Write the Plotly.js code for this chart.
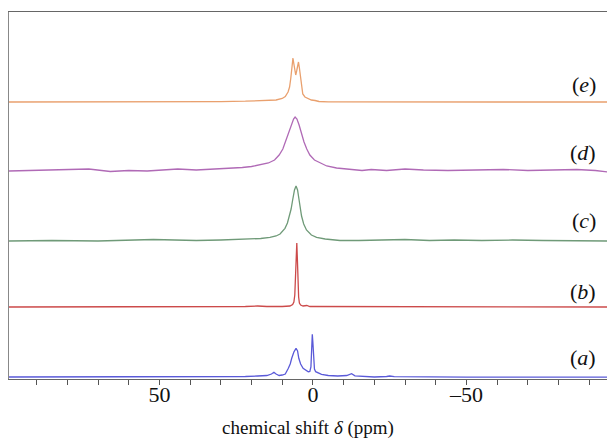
<!DOCTYPE html>
<html>
<head>
<meta charset="utf-8">
<script src="https://cdn.plot.ly/plotly-3.0.1.min.js"></script>
<style>html,body{margin:0;padding:0;background:#fff;}#chart{width:607px;height:442px;}</style>
</head>
<body>
<div id="chart"></div>
<script>
// Spectrum (a)
var ppmA = [99, 60, 40, 30, 26, 22, 18, 15, 13.5, 12.7, 12, 11, 10, 9, 8.0, 7.4, 6.9, 6.2, 5.5, 5.0, 4.6, 4.0, 3.2, 2.3, 1.5, 1.0, 0.65, 0.4, 0.2, 0.0, -0.2, -0.5, -0.9, -2, -2.8, -5, -8.1, -11, -12.6, -13.7, -17, -20, -24, -25, -26.5, -35, -50, -70, -96];
var intA = [2, 2, 2, 2, 2.3, 2.5, 3, 3.5, 5, 6.7, 5, 3.5, 4, 5, 10.7, 15, 20.7, 27, 30.7, 28, 20.7, 15, 10.7, 8.5, 7.3, 7.5, 12, 30, 44.7, 36, 17, 10, 7.3, 5.5, 4.7, 3.5, 3, 3.5, 5.3, 3.2, 2.5, 2, 2.5, 3, 2.3, 2, 1.8, 1.8, 1.8];
// Spectrum (b)
var ppmB = [99, 70, 50, 30, 22, 18, 15, 10, 7.5, 6.6, 6.2, 5.9, 5.65, 5.45, 5.25, 5.05, 4.85, 4.65, 4.4, 4.0, 3.2, 2, 1, -2, -10, -20, -40, -60, -80, -96];
var intB = [0, 0, 0.3, 0, 0.5, 1, 0.5, 0.5, 1, 2.5, 5, 12, 28, 48, 64, 47, 22, 10, 4, 2, 1, 1.5, 0.5, 0.5, 0, 0.3, 0, 0, 0, 0];
// Spectrum (c)
var ppmC = [99, 85, 70, 60, 52, 45, 38, 30, 24, 20.5, 17, 14, 12, 10.7, 9.1, 8.3, 7.7, 7.1, 6.6, 6.0, 5.5, 5.0, 4.7, 4.2, 3.7, 3.0, 2.1, 0.5, -1.2, -4, -8.8, -15, -22, -30, -38, -46, -55, -65, -75, -85, -96];
var intC = [0, 0.5, 0, 0.5, 1.5, 1, 0.5, 1, 1.5, 1.5, 2.5, 3.7, 5, 7, 12.7, 18, 24.3, 32, 41, 51, 55, 51, 45, 34, 25, 17, 11, 6, 3.7, 2, 0.5, 0.5, 1, 1.5, 0.5, 1, 0.5, 1, 0.5, 0.5, 0];
// Spectrum (d)
var ppmD = [99, 92, 85, 78, 73, 66, 60, 54, 48, 44, 38, 32, 27, 23, 20, 17, 14.5, 12.5, 11, 9.8, 8.6, 7.6, 6.9, 6.3, 5.8, 5.2, 4.5, 3.7, 2.9, 2.0, 1.0, -0.5, -2.3, -4.5, -7.7, -12, -16, -19, -24, -30, -36, -44, -52, -62, -70, -78, -86, -92, -96];
var intD = [0, 0.5, 1, 1.5, 2, -0.5, 0.5, 0, 1.5, 2, 1, 2, 2.5, 3.5, 4.5, 6, 8, 11, 16, 22, 32, 41, 47, 52, 54, 52, 46, 37, 29, 22, 16, 11, 8, 5, 3, 1.5, 0.5, 1.5, 0.5, 2, 1, 0.5, 1, 1.5, 0.5, 1, 1.5, 0.5, -1];
// Spectrum (e)
var ppmE = [99, 80, 60, 40, 30, 22, 16, 12, 10, 9, 8.1, 7.6, 7.2, 6.9, 6.5, 6.2, 5.9, 5.6, 5.3, 5.0, 4.7, 4.4, 4.0, 3.6, 3.3, 2.6, 1.6, 0.5, -0.7, -2, -5, -20, -40, -60, -80, -96];
var intE = [0, 0, 0.3, 0, 0.4, 0.8, 1.3, 2, 3.5, 5.5, 10, 15, 24, 35, 44, 38, 31, 27, 31, 37, 40, 34, 24, 14, 8, 5, 3.5, 2, 1.5, 0.5, 0.2, 0, 0, 0, 0, 0];

var labels = ["(<i>a</i>)", "(<i>b</i>)", "(<i>c</i>)", "(<i>d</i>)", "(<i>e</i>)"];
var minorTicks = [90, 80, 70, 60, 50, 40, 30, 20, 10, 0, -10, -20, -30, -40, -50, -60, -70, -80, -90];
var labelTicks = [50, 0, -50];
var labelText = ["50", "0", "\u201350"];

// stacking (styling/positions)
var offsets = [0, 72, 138, 208, 277];
var labelY = [22, 88, 159, 227, 295];
var colors = ["#5a5ad8", "#cc4a4a", "#6f9a78", "#b06ab6", "#e9a06e"];
var SERIF = "Liberation Serif";
var RANGE = [99, -95.8];

var xs = [ppmA, ppmB, ppmC, ppmD, ppmE];
var ys = [intA, intB, intC, intD, intE];
var traces = [];
for (var i = 0; i < 5; i++) {
  traces.push({
    x: xs[i],
    y: ys[i].map(function (v) { return v + offsets[i]; }),
    xaxis: i === 0 ? "x2" : "x",
    type: "scatter",
    mode: "lines",
    line: {color: colors[i], width: 1.3},
    hoverinfo: "skip",
    showlegend: false
  });
}
var annotations = labels.map(function (t, i) {
  return {
    text: t, xref: "paper", yref: "y", x: 0.985, y: labelY[i],
    xanchor: "right", yanchor: "middle", showarrow: false,
    font: {family: SERIF, size: 22, color: "#111"}
  };
});

var layout = {
  width: 607, height: 442,
  margin: {l: 9, r: 0, t: 12, b: 63},
  paper_bgcolor: "#fff", plot_bgcolor: "#fff",
  showlegend: false,
  font: {family: SERIF},
  xaxis: {
    range: RANGE,
    tickmode: "array", tickvals: minorTicks, showticklabels: false,
    ticks: "outside", ticklen: 5, tickcolor: "#555", tickwidth: 1,
    showline: true, linecolor: "#666", linewidth: 1, mirror: true,
    showgrid: false, zeroline: false
  },
  xaxis2: {
    range: RANGE, overlaying: "x", anchor: "y", side: "bottom",
    tickmode: "array", tickvals: labelTicks, ticktext: labelText,
    ticks: "", showline: false, showgrid: false, zeroline: false,
    tickfont: {family: SERIF, size: 22, color: "#111"},
    title: {text: "chemical shift <i>\u03b4</i> (ppm)", standoff: 14,
            font: {family: SERIF, size: 19, color: "#111"}}
  },
  yaxis: {
    range: [0, 367],
    showline: true, linecolor: "#888", linewidth: 1, mirror: false,
    showticklabels: false, ticks: "", showgrid: false, zeroline: false
  },
  annotations: annotations
};
Plotly.newPlot("chart", traces, layout, {staticPlot: true, displayModeBar: false});
</script>
</body>
</html>
